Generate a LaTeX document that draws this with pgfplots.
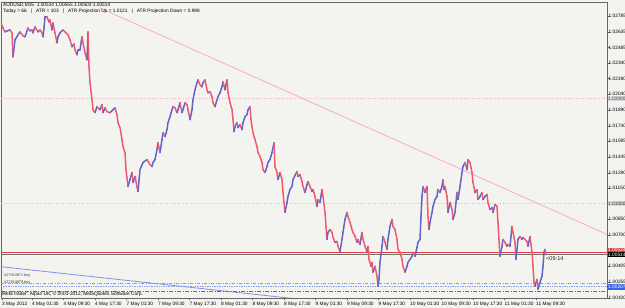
\documentclass[border=0pt]{standalone}
\usepackage{fontspec}
\setmainfont{Liberation Sans}
\usepackage{pgfplots}
\usepackage{pgfplotstable}
\pgfplotsset{compat=1.18}
\definecolor{bg}{RGB}{243,243,240}
\definecolor{cBlue}{RGB}{100,100,200}
\definecolor{cRed}{RGB}{240,90,110}
\definecolor{trend}{RGB}{255,170,200}
\definecolor{pinkgrid}{RGB}{250,175,195}
\definecolor{askred}{RGB}{225,60,60}
\definecolor{dgreen}{RGB}{90,200,90}
\definecolor{lblue}{RGB}{140,160,230}
\definecolor{dblue}{RGB}{130,145,230}
\definecolor{boxblue}{RGB}{60,100,230}
\newcommand\tf{\fontsize{4.8}{5.5}\selectfont}

\pgfplotstableread{
x p c
1 1.02720 1
3 1.02672 1
5 1.02634 0
7 1.02644 0
10 1.02653 1
12 1.02625 1
13 1.02397 0
15 1.02558 0
18 1.02606 0
20 1.02634 1
23 1.02596 1
25 1.02587 0
28 1.02672 1
30 1.02644 0
32 1.02653 1
33 1.02625 0
35 1.02682 1
38 1.02634 0
40 1.02653 1
42 1.02625 1
43 1.02587 0
44 1.02672 0
45 1.02777 0
47 1.02777 1
49 1.02729 0
50 1.02748 1
52 1.02653 0
53 1.02720 1
55 1.02625 1
57 1.02530 0
58 1.02587 0
60 1.02625 0
63 1.02653 1
65 1.02634 1
68 1.02606 1
70 1.02558 1
72 1.02492 0
74 1.02520 1
75 1.02463 1
77 1.02416 0
78 1.02463 0
80 1.02463 0
82 1.02587 1
83 1.02530 1
85 1.02435 1
87 1.02368 0
88 1.02634 1
89 1.02302 1
90 1.02150 1
92 1.01988 1
93 1.01893 1
95 1.01865 0
97 1.01922 1
100 1.01893 0
102 1.01941 1
103 1.01865 0
105 1.01912 1
107 1.01874 1
110 1.01865 0
113 1.01893 0
115 1.01912 1
117 1.01846 1
118 1.01770 1
120 1.01722 1
122 1.01608 1
123 1.01542 1
125 1.01485 1
126 1.01323 1
128 1.01162 0
130 1.01228 0
132 1.01295 1
133 1.01200 0
135 1.01257 1
137 1.01162 1
138 1.01114 0
140 1.01323 0
143 1.01390 0
147 1.01418 1
150 1.01371 1
152 1.01352 0
153 1.01390 0
155 1.01418 0
157 1.01513 0
158 1.01580 1
160 1.01485 0
162 1.01608 0
163 1.01675 1
165 1.01637 0
167 1.01703 0
168 1.01770 0
170 1.01827 0
172 1.01893 0
173 1.01922 1
175 1.01912 1
177 1.01865 0
178 1.01893 0
180 1.01960 1
182 1.01865 0
183 1.01893 0
185 1.01960 1
187 1.01941 1
188 1.01893 1
190 1.01798 0
192 1.01893 0
193 1.01988 0
195 1.02083 0
197 1.02150 0
198 1.02178 1
200 1.02131 1
202 1.02112 0
203 1.02150 0
205 1.02178 1
207 1.02083 1
208 1.02055 0
210 1.02064 1
212 1.02017 1
213 1.01960 1
215 1.01922 0
217 1.01988 0
218 1.02017 0
220 1.02055 0
222 1.02112 0
223 1.02159 1
225 1.02083 0
227 1.02178 1
228 1.02055 1
230 1.01960 1
232 1.01893 1
233 1.01798 1
234 1.01684 0
235 1.01732 0
237 1.01770 1
238 1.01722 0
240 1.01751 1
242 1.01703 0
243 1.01770 0
245 1.01827 0
247 1.01846 0
248 1.01893 0
250 1.01922 1
251 1.01798 1
252 1.01732 1
253 1.01675 1
255 1.01608 1
257 1.01542 1
258 1.01485 1
260 1.01447 1
262 1.01390 1
263 1.01323 1
265 1.01295 0
267 1.01352 0
268 1.01390 0
270 1.01418 0
272 1.01485 0
274 1.01580 1
275 1.01352 1
277 1.01295 1
278 1.01228 0
280 1.01295 1
282 1.01228 1
283 1.01105 1
285 1.00915 0
287 1.01010 0
288 1.01067 0
290 1.01133 0
292 1.01162 0
293 1.01228 0
295 1.01266 0
297 1.01304 1
298 1.01257 0
300 1.01276 1
302 1.01209 1
303 1.01162 1
305 1.01105 0
307 1.01181 0
308 1.01209 1
310 1.01162 1
312 1.01114 0
313 1.01133 1
315 1.01067 1
317 1.00972 0
318 1.01038 1
320 1.01010 0
322 1.01133 1
323 1.01067 1
325 1.00915 1
326 1.00782 1
327 1.00658 0
328 1.00725 0
330 1.00753 1
332 1.00725 1
333 1.00677 1
335 1.00630 0
337 1.00639 1
338 1.00592 1
340 1.00544 0
342 1.00658 0
343 1.00725 0
345 1.00848 0
347 1.00915 1
348 1.00877 1
350 1.00820 1
352 1.00753 1
353 1.00725 1
355 1.00687 1
357 1.00630 0
358 1.00658 1
360 1.00611 0
362 1.00725 1
363 1.00658 1
365 1.00592 1
367 1.00544 0
368 1.00592 1
369 1.00468 1
371 1.00402 0
372 1.00440 1
373 1.00345 0
375 1.00402 1
377 1.00307 1
378 1.00212 0
379 1.00278 0
380 1.00440 0
382 1.00592 0
383 1.00687 1
385 1.00630 1
387 1.00563 0
388 1.00658 0
390 1.00782 0
392 1.00848 1
393 1.00782 1
395 1.00753 1
397 1.00658 1
398 1.00563 1
400 1.00535 1
402 1.00468 1
403 1.00402 1
405 1.00345 0
407 1.00402 0
408 1.00440 0
410 1.00468 0
412 1.00497 0
413 1.00535 1
415 1.00497 0
417 1.00582 0
418 1.00630 0
420 1.00658 0
421 1.00877 0
422 1.01067 0
423 1.01162 1
425 1.01105 0
427 1.01162 1
428 1.00877 1
429 1.00753 0
430 1.00820 0
432 1.00915 0
433 1.00972 0
435 1.01038 0
437 1.01067 0
438 1.01133 1
440 1.01105 0
442 1.01162 0
443 1.01228 1
444 1.01133 0
445 1.01162 1
447 1.01067 1
448 1.00915 0
450 1.01010 1
452 1.00943 1
453 1.00848 0
455 1.00915 0
457 1.01105 1
458 1.01038 0
460 1.01162 0
462 1.01295 0
463 1.01352 0
465 1.01390 1
467 1.01323 0
468 1.01418 1
470 1.01390 1
472 1.01295 1
473 1.01200 1
475 1.01105 0
477 1.01133 1
478 1.01038 0
480 1.01067 0
482 1.01105 1
483 1.01038 0
485 1.01067 0
487 1.01086 1
488 1.01010 1
490 1.00943 0
492 1.00962 1
493 1.00915 0
495 1.00991 1
497 1.00972 1
498 1.00820 1
499 1.00658 1
500 1.00497 0
502 1.00592 0
503 1.00658 1
505 1.00630 1
507 1.00592 0
508 1.00611 1
510 1.00592 0
512 1.00782 1
513 1.00725 1
515 1.00630 1
516 1.00468 0
517 1.00563 0
518 1.00658 0
520 1.00687 1
522 1.00658 0
523 1.00677 1
525 1.00658 1
527 1.00639 1
528 1.00592 0
530 1.00687 1
532 1.00535 1
533 1.00402 1
534 1.00250 1
535 1.00212 0
537 1.00278 1
538 1.00183 0
540 1.00250 0
542 1.00307 0
543 1.00402 0
544 1.00535 0
545 1.00563 1
546 1.00514 0
}\price

\begin{document}
\begin{tikzpicture}
\useasboundingbox (0,0) rectangle (625pt,308pt);
\fill[bg] (0,0) rectangle (625pt,308pt);
\begin{axis}[
  at={(1pt,10pt)}, anchor=south west,
  scale only axis, width=606pt, height=296pt,
  xmin=1, xmax=607, ymin=1.00100, ymax=1.02919,
  clip mode=individual,
  axis line style={draw=black!60, line width=0.8pt},
  axis background/.style={fill=bg},
  xtick pos=left, ytick pos=right, yticklabel pos=right,
  tick align=outside, major tick length=2.5pt,
  tick style={black!60, line width=0.4pt},
  xtick={2,32,63.5,95,126.5,158,189.5,221,252.5,284,315.5,347,378.5,410,441.5,473,504.5,536},
  xticklabels={3 May 2012,4 May 01:30,4 May 09:30,4 May 17:30,7 May 01:30,7 May 09:30,7 May 17:30,8 May 01:30,8 May 09:30,8 May 17:30,9 May 01:30,9 May 09:30,9 May 17:30,10 May 01:30,10 May 09:30,10 May 17:30,11 May 01:30,11 May 09:30},
  x tick label style={anchor=north west, font=\tf, inner sep=0pt, yshift=-1pt, text=black},
  ytick={1.02785,1.02635,1.02485,1.02340,1.02190,1.02040,1.01890,1.01740,1.01595,1.01445,1.01290,1.01150,1.01000,1.00850,1.00700,1.00550,1.00405,1.00255,1.00100},
  yticklabels={1.02785,1.02635,1.02485,1.02340,1.02190,1.02040,1.01890,1.01740,1.01595,1.01445,1.01290,1.01150,1.01000,1.00850,1.00700,1.00550,1.00405,1.00255,1.00100},
  y tick label style={anchor=west, font=\tf, inner sep=0pt, xshift=-1pt, text=black},
]
% round-number grid levels
\addplot[pinkgrid, dotted, line width=0.6pt] coordinates {(1,1.0200) (607,1.0200)};
\addplot[pinkgrid, dotted, line width=0.6pt] coordinates {(1,1.0100) (607,1.0100)};
% trend line and lower blue line
\addplot[trend, line width=0.8pt] coordinates {(100,1.02862) (607,1.00706)};
\addplot[dblue, line width=0.8pt] coordinates {(1,1.00398) (300,1.00088)};
% level lines
\addplot[dgreen, line width=0.7pt, dash pattern=on 3pt off 1.5pt on 1pt off 1.5pt] coordinates {(1,1.00235) (607,1.00235)};
\addplot[lblue, line width=0.7pt, densely dotted] coordinates {(1,1.00207) (607,1.00207)};
\addplot[askred, line width=0.7pt, dash pattern=on 4pt off 1.5pt on 1pt off 1.5pt] coordinates {(1,1.00165) (607,1.00165)};
\addplot[askred, line width=0.7pt] coordinates {(1,1.00534) (607,1.00534)};
\addplot[black!55, line width=0.5pt] coordinates {(1,1.00514) (607,1.00514)};
% price
\addplot[mesh, shader=flat corner, point meta=explicit, line width=1.5pt, line cap=round,
  colormap={rb}{color=(cBlue) color=(cRed)}, point meta min=0, point meta max=1]
  table[x=x, y=p, meta=c] {\price};
% header
\node[anchor=north west, font=\tf, inner sep=0pt, text=black] at (rel axis cs:0,1) [xshift=2pt, yshift=-1.3pt] {AUDUSD,M15\ \ 1.00514 1.00555 1.00503 1.00514};
\node[anchor=north west, font=\tf, inner sep=0pt, text=black] at (rel axis cs:0,1) [xshift=2pt, yshift=-7.3pt] {Today = 66 \ \ | \ \ ATR = 103 \ \ | \ \ ATR Projection Up = 1.0121 \ \ | \ \ ATR Projection Down = 0.998};
% timer
\node[anchor=west, font=\fontsize{5.6}{6}\selectfont, inner sep=0pt, text=black!85] at (axis cs:546,1.00477) {<09:14};
% bottom-left texts
\node[anchor=west, font=\fontsize{3.8}{4}\selectfont, inner sep=0pt, text=black!75] at (axis cs:4,1.00318) {\#27924871 buy};
\node[anchor=west, font=\fontsize{3.8}{4}\selectfont, inner sep=0pt, text=black!75] at (axis cs:4,1.00252) {\#27924878 buy};
\node[anchor=west, font=\tf, inner sep=0pt, text=black] at (axis cs:2,1.00136) {MetaTrader: Alpari UK, © 2001-2012, MetaQuotes Software Corp.};
% right-axis price boxes
\node[anchor=west, fill=black!15, text=black!70, font=\tf, inner sep=0.4pt, minimum height=5.5pt, minimum width=17pt] at (axis cs:607,1.0200) [xshift=0.6pt] {1.02000};
\node[anchor=west, fill=black!15, text=black!80, font=\tf, inner sep=0.4pt, minimum height=5.5pt, minimum width=17pt] at (axis cs:607,1.0100) [xshift=0.6pt] {1.01000};
\node[anchor=south west, fill=askred, text=white, font=\tf, inner sep=0.4pt, minimum height=5pt, minimum width=17pt] at (axis cs:607,1.00514) [xshift=0.6pt, yshift=1.5pt] {1.00534};
\node[anchor=west, fill=black, text=white, font=\tf, inner sep=0.4pt, minimum height=5.5pt, minimum width=17pt] at (axis cs:607,1.00514) [xshift=0.6pt] {1.00514};
\node[anchor=west, fill=boxblue, text=white, font=\tf, inner sep=0.4pt, minimum height=5.5pt, minimum width=17pt] at (axis cs:607,1.00207) [xshift=0.6pt] {1.00207};
\end{axis}
\end{tikzpicture}
\end{document}
